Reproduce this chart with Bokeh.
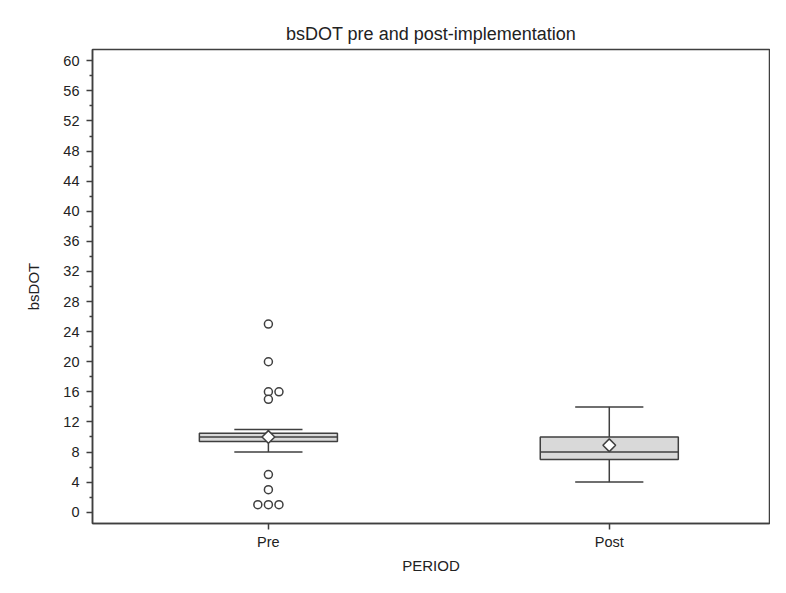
import math
from bokeh.plotting import figure
from bokeh.models import Range1d, FixedTicker, ColumnDataSource
from bokeh.embed import file_html
from bokeh.resources import INLINE

# ---- data ----
periods = ["Pre", "Post"]
q1 = [9.4, 7.0]
median = [10.0, 8.0]
q3 = [10.5, 10.0]
whisker_low = [8.0, 4.0]
whisker_high = [11.0, 14.0]
means = [10.0, 8.9]
pre_outliers = [25, 20, 16, 16, 15, 5, 3, 1, 1, 1]
post_outliers = []
y_ticks = list(range(0, 61, 4))

FONT = "Liberation Sans"
LINE = "#3f3f3f"
TEXT = "#222222"

p = figure(width=770, height=577, output_backend="svg", toolbar_location=None,
           x_range=Range1d(-0.016, 1.97), y_range=Range1d(-1.5, 61.5),
           min_border_left=92, min_border_right=1, min_border_top=49, min_border_bottom=54)

centers = [0.5 + i for i in range(len(periods))]
box_w = 0.405
cap_w = 0.2
dodge = 0.031

src = ColumnDataSource(dict(x=centers, q1=q1, q3=q3, med=median, lo=whisker_low, hi=whisker_high,
                            mean=means,
                            xl=[c - box_w / 2 for c in centers], xr=[c + box_w / 2 for c in centers],
                            cl=[c - cap_w / 2 for c in centers], cr=[c + cap_w / 2 for c in centers]))

# whiskers
p.segment(x0="x", y0="q3", x1="x", y1="hi", source=src, line_color=LINE, line_width=1.5)
p.segment(x0="x", y0="q1", x1="x", y1="lo", source=src, line_color=LINE, line_width=1.5)
p.segment(x0="cl", y0="hi", x1="cr", y1="hi", source=src, line_color=LINE, line_width=1.5)
p.segment(x0="cl", y0="lo", x1="cr", y1="lo", source=src, line_color=LINE, line_width=1.5)
# box
p.vbar(x="x", width=box_w, bottom="q1", top="q3", source=src, fill_color="#d9d9d9",
       line_color=LINE, line_width=1.5)
p.segment(x0="xl", y0="med", x1="xr", y1="med", source=src, line_color=LINE, line_width=1.5)
# mean
p.scatter(x="x", y="mean", source=src, marker="square", angle=math.pi / 4, size=9,
          fill_color="white", line_color=LINE, line_width=1.5)

# outliers, duplicates spread sideways
ox, oy = [], []
for c, vals in zip(centers, [pre_outliers, post_outliers]):
    counts = {}
    for v in vals:
        counts[v] = counts.get(v, 0) + 1
    for v, n in counts.items():
        if n == 1:
            offs = [0]
        elif n == 2:
            offs = [0, dodge]
        else:
            offs = [(k - (n - 1) / 2) * dodge for k in range(n)]
        for o in offs:
            ox.append(c + o)
            oy.append(v)
p.scatter(ox, oy, marker="circle", size=8, fill_color="white", line_color=LINE, line_width=1.5)

# title
p.title.text = "bsDOT pre and post-implementation"
p.title.align = "center"
p.title.text_font = FONT
p.title.text_font_size = "18px"
p.title.text_font_style = "normal"
p.title.text_color = TEXT
p.title.standoff = 12

# axes
p.xaxis.ticker = FixedTicker(ticks=centers)
p.xaxis.major_label_overrides = {c: lab for c, lab in zip(centers, periods)}
p.xaxis.axis_label = "PERIOD"
p.yaxis.axis_label = "bsDOT"
p.yaxis.ticker = FixedTicker(ticks=y_ticks, minor_ticks=list(range(2, 61, 4)))

for ax in (p.xaxis[0], p.yaxis[0]):
    ax.axis_line_color = LINE
    ax.axis_line_width = 1.5
    ax.major_tick_line_color = LINE
    ax.major_tick_line_width = 1.5
    ax.major_tick_in = 0
    ax.major_tick_out = 6
    ax.minor_tick_line_color = LINE
    ax.minor_tick_line_width = 1.5
    ax.minor_tick_in = 0
    ax.minor_tick_out = 3
    ax.major_label_text_font = FONT
    ax.major_label_text_font_size = "14.5px"
    ax.major_label_text_color = TEXT
    ax.axis_label_text_font = FONT
    ax.axis_label_text_font_size = "15px"
    ax.axis_label_text_font_style = "normal"
    ax.axis_label_text_color = TEXT

p.xaxis.minor_tick_line_color = None
p.xaxis.major_label_standoff = 4
p.xaxis.axis_label_standoff = 4
p.yaxis.major_label_standoff = 7
p.yaxis.axis_label_standoff = 18

p.xgrid.grid_line_color = None
p.ygrid.grid_line_color = None
p.outline_line_color = LINE
p.outline_line_width = 1.5
p.background_fill_color = "white"
p.border_fill_color = "white"

open("out.html", "w").write(file_html(p, INLINE))
